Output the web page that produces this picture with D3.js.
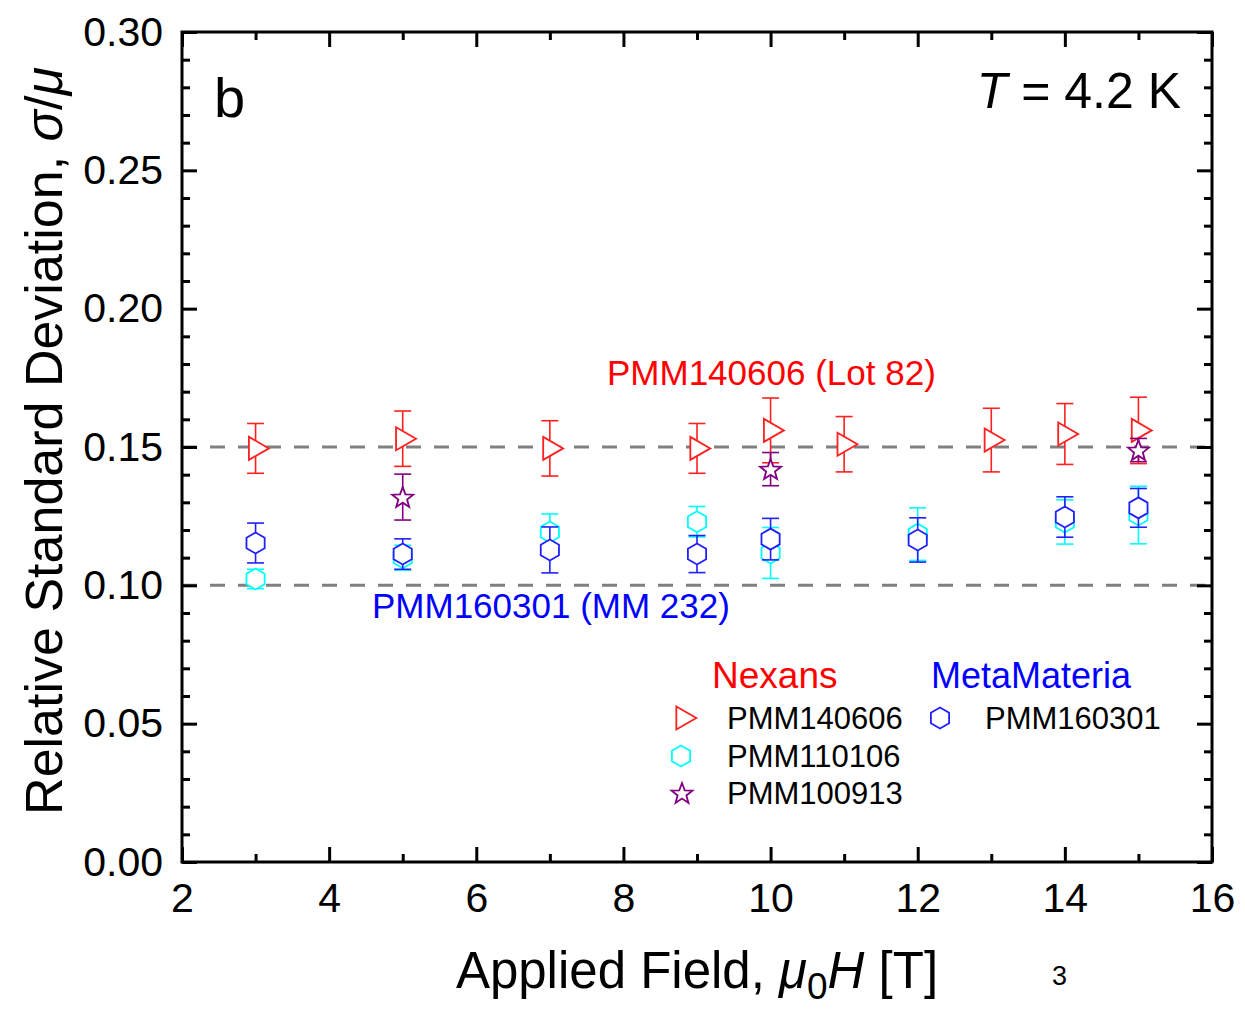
<!DOCTYPE html>
<html>
<head>
<meta charset="utf-8">
<script src="https://cdn.jsdelivr.net/npm/d3@7"></script>
<style>
  body { margin: 0; background: #fff; }
  svg { display: block; font-family: "Liberation Sans", Arial, sans-serif; }
</style>
</head>
<body>
<svg id="chart" width="1245" height="1011"></svg>
<script>
// Nexans PMM140606 (Lot 82)
var x140606 = [3, 5, 7, 9, 10, 11, 13, 14, 15];
var y140606 = [0.1495, 0.153, 0.1495, 0.1495, 0.156, 0.151, 0.1525, 0.1547, 0.156];
var e140606 = [0.009, 0.010, 0.010, 0.009, 0.0117, 0.010, 0.0115, 0.011, 0.012];

// Nexans PMM110106
var x110106 = [3, 5, 7, 9, 10, 12, 14, 15];
var y110106 = [0.1023, 0.110, 0.1193, 0.123, 0.1117, 0.1185, 0.1229, 0.1254];
var e110106 = [0.0035, 0.0045, 0.0065, 0.0055, 0.0092, 0.0095, 0.008, 0.0104];

// Nexans PMM100913
var x100913 = [5, 10, 15];
var y100913 = [0.1319, 0.142, 0.1489];
var e100913 = [0.0083, 0.006, 0.0042];

// MetaMateria PMM160301 (MM 232)
var x160301 = [3, 5, 7, 9, 10, 12, 14, 15];
var y160301 = [0.1153, 0.1113, 0.1128, 0.1113, 0.1167, 0.1164, 0.1247, 0.128];
var e160301 = [0.0072, 0.0055, 0.0083, 0.0067, 0.0075, 0.008, 0.0073, 0.007];

// reference lines and ticks
var refLines = [0.15, 0.10];
var xTicks = [2, 4, 6, 8, 10, 12, 14, 16];
var xMinor = [3, 5, 7, 9, 11, 13, 15];
var yTicks = [0, 0.05, 0.10, 0.15, 0.20, 0.25, 0.30];
var yMinor = d3.range(0, 31).map(d => d / 100).filter(d => Math.round(d * 100) % 5 !== 0);

var svg = d3.select('#chart');
var plotL = 182, plotR = 1212, plotT = 32, plotB = 862;

var x = d3.scaleLinear().domain([2, 16]).range([plotL, plotR]);
var y = d3.scaleLinear().domain([0, 0.30]).range([plotB, plotT]);

// marker shapes
function triPath() {
    var h = 20, s = 11.5;
    return `M${-h / 3},${-s}L${2 * h / 3},0L${-h / 3},${s}Z`;
}
function hexPath() {
    var r = 10.5, p = [];
    for (var k = 0; k < 6; k++) {
        var a = (-90 + 60 * k) * Math.PI / 180;
        p.push([r * Math.cos(a), r * Math.sin(a)]);
    }
    return 'M' + p.map(d => d.join(',')).join('L') + 'Z';
}
function starPath() {
    var R = 11, r = 4.6, p = [];
    for (var k = 0; k < 10; k++) {
        var a = (-90 + 36 * k) * Math.PI / 180;
        var rr = k % 2 === 0 ? R : r;
        p.push([rr * Math.cos(a), rr * Math.sin(a) + 1]);
    }
    return 'M' + p.map(d => d.join(',')).join('L') + 'Z';
}

// dashed reference lines
svg.append('g')
    .selectAll('line')
    .data(refLines)
    .join('line')
    .attr('x1', plotL)
    .attr('x2', plotR)
    .attr('y1', d => y(d))
    .attr('y2', d => y(d))
    .attr('stroke', '#808080')
    .attr('stroke-width', 3)
    .attr('stroke-dasharray', '15,13');

// draw one series with error bars
function drawSeries(xs, ys, es, color, path) {
    var data = xs.map((d, i) => ({ x: d, y: ys[i], e: es[i] }));
    var g = svg.append('g');
    var bars = g.selectAll('g.bar').data(data).join('g').attr('class', 'bar')
        .attr('stroke', color).attr('stroke-width', 1.6);
    bars.append('line')
        .attr('x1', d => x(d.x)).attr('x2', d => x(d.x))
        .attr('y1', d => y(d.y + d.e)).attr('y2', d => y(d.y - d.e));
    bars.append('line')
        .attr('x1', d => x(d.x) - 8.5).attr('x2', d => x(d.x) + 8.5)
        .attr('y1', d => y(d.y + d.e)).attr('y2', d => y(d.y + d.e));
    bars.append('line')
        .attr('x1', d => x(d.x) - 8.5).attr('x2', d => x(d.x) + 8.5)
        .attr('y1', d => y(d.y - d.e)).attr('y2', d => y(d.y - d.e));
    g.selectAll('path').data(data).join('path')
        .attr('d', path)
        .attr('transform', d => `translate(${x(d.x)},${y(d.y)})`)
        .attr('fill', '#fff')
        .attr('stroke', color)
        .attr('stroke-width', 1.8);
}

drawSeries(x110106, y110106, e110106, '#00FFFF', hexPath());
drawSeries(x160301, y160301, e160301, '#2020FF', hexPath());
drawSeries(x140606, y140606, e140606, '#FF2020', triPath());
drawSeries(x100913, y100913, e100913, '#800080', starPath());

// axes with inward ticks on all four sides
function styleAxis(g) {
    g.select('.domain').remove();
    g.selectAll('.tick line').attr('stroke', '#000').attr('stroke-width', 3);
    g.selectAll('.tick text').attr('fill', '#000').attr('font-size', 41)
        .attr('font-family', '"Liberation Sans", Arial, sans-serif');
}

svg.append('g').attr('transform', `translate(0,${plotB})`)
    .call(d3.axisBottom(x).tickValues(xTicks).tickSize(-15).tickPadding(21).tickFormat(d3.format('d')))
    .call(styleAxis);
svg.append('g').attr('transform', `translate(0,${plotB})`)
    .call(d3.axisBottom(x).tickValues(xMinor).tickSize(-8).tickFormat(''))
    .call(styleAxis);
svg.append('g').attr('transform', `translate(0,${plotT})`)
    .call(d3.axisTop(x).tickValues(xTicks).tickSize(-15).tickFormat(''))
    .call(styleAxis);
svg.append('g').attr('transform', `translate(0,${plotT})`)
    .call(d3.axisTop(x).tickValues(xMinor).tickSize(-8).tickFormat(''))
    .call(styleAxis);

svg.append('g').attr('transform', `translate(${plotL},0)`)
    .call(d3.axisLeft(y).tickValues(yTicks).tickSize(-15).tickPadding(19).tickFormat(d3.format('.2f')))
    .call(styleAxis);
svg.append('g').attr('transform', `translate(${plotL},0)`)
    .call(d3.axisLeft(y).tickValues(yMinor).tickSize(-8).tickFormat(''))
    .call(styleAxis);
svg.append('g').attr('transform', `translate(${plotR},0)`)
    .call(d3.axisRight(y).tickValues(yTicks).tickSize(-15).tickFormat(''))
    .call(styleAxis);
svg.append('g').attr('transform', `translate(${plotR},0)`)
    .call(d3.axisRight(y).tickValues(yMinor).tickSize(-8).tickFormat(''))
    .call(styleAxis);

// frame
svg.append('rect')
    .attr('x', plotL).attr('y', plotT)
    .attr('width', plotR - plotL).attr('height', plotB - plotT)
    .attr('fill', 'none').attr('stroke', '#000').attr('stroke-width', 3);

// axis titles
var xt = svg.append('text')
    .attr('x', (plotL + plotR) / 2).attr('y', 988)
    .attr('text-anchor', 'middle').attr('font-size', 51);
xt.append('tspan').text('Applied Field, ');
xt.append('tspan').attr('font-style', 'italic').text('μ');
xt.append('tspan').attr('font-size', 37).attr('dy', 11).text('0');
xt.append('tspan').attr('font-style', 'italic').attr('dy', -11).text('H');
xt.append('tspan').text(' [T]');

var yt = svg.append('text')
    .attr('transform', `translate(62,441) rotate(-90)`)
    .attr('text-anchor', 'middle').attr('font-size', 52);
yt.append('tspan').text('Relative Standard Deviation, ');
yt.append('tspan').attr('font-style', 'italic').text('σ');
yt.append('tspan').text('/');
yt.append('tspan').attr('font-style', 'italic').text('μ');

// panel label and temperature
svg.append('text').attr('x', 214).attr('y', 117).attr('font-size', 56).text('b');
var tt = svg.append('text').attr('x', 1181).attr('y', 108)
    .attr('text-anchor', 'end').attr('font-size', 50);
tt.append('tspan').attr('font-style', 'italic').text('T');
tt.append('tspan').text(' = 4.2 K');

// series annotations
svg.append('text').attr('x', 607).attr('y', 385).attr('font-size', 35)
    .attr('fill', '#FF0000').text('PMM140606 (Lot 82)');
svg.append('text').attr('x', 372).attr('y', 618).attr('font-size', 35)
    .attr('fill', '#0000FF').text('PMM160301 (MM 232)');

// legend
svg.append('text').attr('x', 712).attr('y', 688).attr('font-size', 37)
    .attr('fill', '#FF0000').text('Nexans');
svg.append('text').attr('x', 931).attr('y', 688).attr('font-size', 36)
    .attr('fill', '#0000FF').text('MetaMateria');

var legendItems = [
    { name: 'PMM140606', color: '#FF2020', path: triPath(), mx: 683, tx: 727, y: 718 },
    { name: 'PMM110106', color: '#00FFFF', path: hexPath(), mx: 681, tx: 727, y: 756 },
    { name: 'PMM100913', color: '#800080', path: starPath(), mx: 682, tx: 727, y: 793 },
    { name: 'PMM160301', color: '#2020FF', path: hexPath(), mx: 940, tx: 985, y: 718 }
];
var lg = svg.append('g').selectAll('g').data(legendItems).join('g');
lg.append('path')
    .attr('d', d => d.path)
    .attr('transform', d => `translate(${d.mx},${d.y})`)
    .attr('fill', '#fff').attr('stroke', d => d.color).attr('stroke-width', 1.8);
lg.append('text')
    .attr('x', d => d.tx).attr('y', d => d.y + 11)
    .attr('font-size', 31).attr('fill', '#000')
    .text(d => d.name);

// page number
svg.append('text').attr('x', 1052).attr('y', 985).attr('font-size', 27).text('3');
</script>
</body>
</html>
